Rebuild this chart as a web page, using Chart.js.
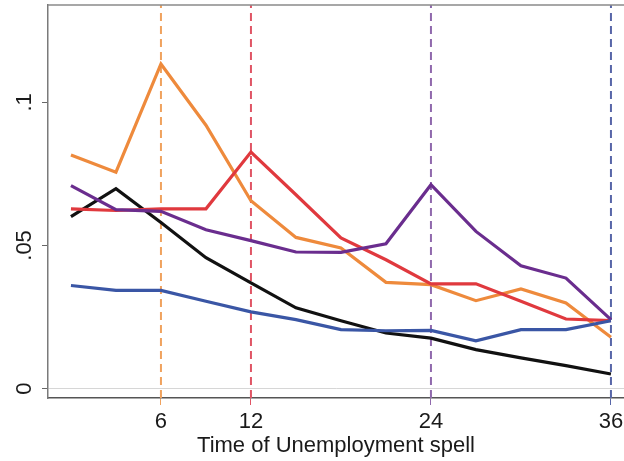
<!DOCTYPE html>
<html>
<head>
<meta charset="utf-8">
<script src="https://cdn.jsdelivr.net/npm/chart.js@4.4.1/dist/chart.umd.min.js"></script>
<style>
    html, body { margin: 0; padding: 0; background: #fff; overflow: hidden; }
</style>
</head>
<body>
<canvas id="chart" width="624" height="461"></canvas>
<script>
// Months of the unemployment spell (x values)
const months = [0, 3, 6, 9, 12, 15, 18, 21, 24, 27, 30, 33, 36];

// Series values
const blackSeries  = [0.0601, 0.0698, 0.0580, 0.0457, 0.0369, 0.0282, 0.0237, 0.0194, 0.0176, 0.0136, 0.0107, 0.0080, 0.0051];
const blueSeries   = [0.0360, 0.0343, 0.0343, 0.0305, 0.0268, 0.0241, 0.0206, 0.0202, 0.0203, 0.0167, 0.0206, 0.0206, 0.0237];
const orangeSeries = [0.0816, 0.0756, 0.1134, 0.0920, 0.0656, 0.0528, 0.0491, 0.0371, 0.0363, 0.0307, 0.0348, 0.0299, 0.0179];
const redSeries    = [0.0628, 0.0622, 0.0628, 0.0628, 0.0826, 0.0677, 0.0526, 0.0450, 0.0366, 0.0366, 0.0305, 0.0243, 0.0237];
const purpleSeries = [0.0709, 0.0625, 0.0619, 0.0555, 0.0517, 0.0477, 0.0476, 0.0506, 0.0712, 0.0549, 0.0429, 0.0386, 0.0241];

// Vertical reference lines (benefit exhaustion months)
const markerMonths = [6, 12, 24, 36];

// Tick labels
const xTickValues = [6, 12, 24, 36];
const yTickValues = [0, 0.05, 0.1];
const yTickLabels = ['0', '.05', '.1'];

// Axis limits
const X_MIN = -1.53, X_MAX = 36.87;
const Y_MIN = -0.0033, Y_MAX = 0.134;

const FONT = '"Liberation Sans", Arial, Helvetica, sans-serif';
const MARKER_COLORS = ['#f0a25e', '#e05565', '#9069ad', '#5866a8'];

const toPoints = (vals) => vals.map((v, i) => ({ x: months[i], y: v }));

const seriesDefs = [
    { data: blueSeries, color: '#3a56a5' },
    { data: purpleSeries, color: '#6a2d8e' },
    { data: redSeries, color: '#e0393e' },
    { data: orangeSeries, color: '#ee8a3c' },
    { data: blackSeries, color: '#111111' },
];

const datasets = seriesDefs.map(s => ({
    data: toPoints(s.data),
    borderColor: s.color,
    borderWidth: 3.2,
    pointRadius: 0,
    tension: 0,
    fill: false,
}));

// dashed verticals, drawn beneath the series
markerMonths.forEach((m, i) => {
    datasets.push({
        data: [{ x: m, y: Y_MIN }, { x: m, y: Y_MAX }],
        borderColor: MARKER_COLORS[i],
        borderWidth: 2,
        borderDash: [8, 5],
        pointRadius: 0,
        fill: false,
    });
});

// Frame top line and rotated y labels
const framePlugin = {
    id: 'frame',
    afterDraw(chart) {
        const { ctx, chartArea } = chart;
        const y = chart.scales.y;
        ctx.save();
        ctx.strokeStyle = '#8a8a8a';
        ctx.lineWidth = 1.5;
        ctx.beginPath();
        ctx.moveTo(chartArea.left, chartArea.top);
        ctx.lineTo(chartArea.right, chartArea.top);
        ctx.stroke();

        ctx.fillStyle = '#1a1a1a';
        ctx.font = '22px ' + FONT;
        ctx.textAlign = 'center';
        ctx.textBaseline = 'middle';
        yTickValues.forEach((v, i) => {
            const py = y.getPixelForValue(v);
            ctx.save();
            ctx.translate(25, py);
            ctx.rotate(-Math.PI / 2);
            ctx.fillText(yTickLabels[i], 0, 0);
            ctx.restore();
        });
        ctx.restore();
    }
};

new Chart(document.getElementById('chart'), {
    type: 'line',
    data: { datasets },
    options: {
        responsive: false,
        animation: false,
        layout: { padding: { top: 5, right: 0, bottom: 0, left: 0 } },
        plugins: {
            legend: { display: false },
            tooltip: { enabled: false },
        },
        scales: {
            x: {
                type: 'linear',
                min: X_MIN,
                max: X_MAX,
                afterBuildTicks: (scale) => { scale.ticks = xTickValues.map(v => ({ value: v })); },
                afterFit: (scale) => {
                    scale.height = 63;
                    scale.paddingLeft = 0;
                    scale.paddingRight = 0;
                },
                ticks: {
                    color: '#1a1a1a',
                    font: { family: FONT, size: 22 },
                    padding: 4,
                    maxRotation: 0,
                    autoSkip: false,
                },
                grid: {
                    drawOnChartArea: false,
                    tickLength: 7,
                    tickColor: (ctx) => MARKER_COLORS[xTickValues.indexOf(ctx.tick.value)] || '#777',
                },
                border: { display: true, color: '#555', width: 1.5 },
                title: {
                    display: true,
                    text: 'Time of Unemployment spell',
                    color: '#1a1a1a',
                    font: { family: FONT, size: 22 },
                    padding: { top: 0, bottom: 2 },
                },
            },
            y: {
                type: 'linear',
                min: Y_MIN,
                max: Y_MAX,
                afterBuildTicks: (scale) => { scale.ticks = yTickValues.map(v => ({ value: v })); },
                afterFit: (scale) => { scale.width = 48; },
                ticks: { display: false },
                grid: {
                    color: (ctx) => ctx.tick && ctx.tick.value === 0 ? '#d6d6d6' : 'rgba(0,0,0,0)',
                    tickColor: '#666',
                    tickLength: 6,
                    lineWidth: 1,
                },
                border: { display: true, color: '#7a7a7a', width: 1.5 },
            },
        },
    },
    plugins: [framePlugin],
});
</script>
</body>
</html>
